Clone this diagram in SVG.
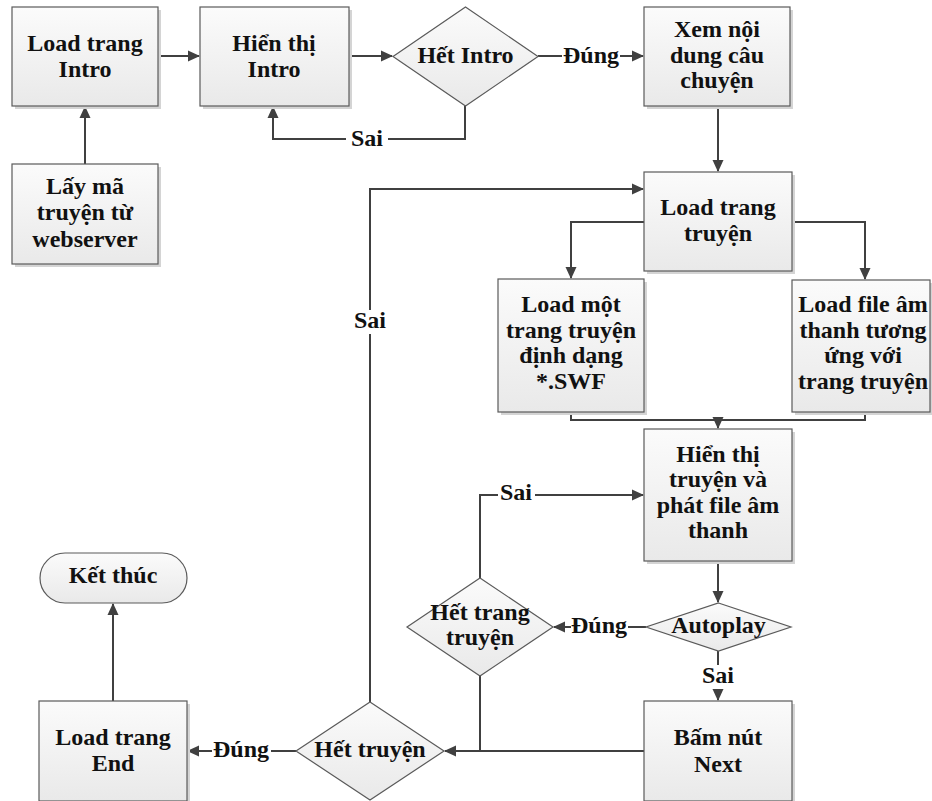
<svg xmlns="http://www.w3.org/2000/svg" width="932" height="801" viewBox="0 0 932 801">
<defs>
<linearGradient id="g" x1="0" y1="0" x2="0" y2="1">
<stop offset="0" stop-color="#fbfbfb"/>
<stop offset="1" stop-color="#e9e9e9"/>
</linearGradient>
<marker id="ah" markerUnits="userSpaceOnUse" markerWidth="12" markerHeight="12" viewBox="0 0 12 12" refX="11" refY="6" orient="auto">
<path d="M0,0.5 L12,6 L0,11.5 Z" fill="#404040"/>
</marker>
</defs>
<style>
.sh{fill:#d4d4d4}
.bx{fill:url(#g);stroke:#5a5a5a;stroke-width:1.2}
.t{font-weight:700;font-size:24px;fill:#111;text-anchor:middle}
.c{fill:none;stroke:#404040;stroke-width:2}
.a{marker-end:url(#ah)}
.lb{fill:#fff}
</style>
<rect width="932" height="801" fill="#fff"/>

<g font-family="Liberation Serif, Times New Roman, serif">
<g id="connectors">
<path class="c a" d="M85 164 V107"/>
<path class="c a" d="M158 56 H199"/>
<path class="c a" d="M349 56 H392"/>
<path class="c a" d="M465 106 V139 H273 V107"/>
<path class="c a" d="M538 56 H643"/>
<path class="c a" d="M718 106 V171"/>
<path class="c a" d="M644 222 H571 V278"/>
<path class="c a" d="M792 222 H865 V279"/>
<path class="c" d="M571 412 V420 H865 V412"/>
<path class="c a" d="M718 420 V428"/>
<path class="c a" d="M718 561 V602"/>
<path class="c a" d="M646 627 H554"/>
<path class="c a" d="M480 578 V495 H643"/>
<path class="c" d="M480 676 V751"/>
<path class="c a" d="M644 751 H445"/>
<path class="c a" d="M718 651 V700"/>
<path class="c a" d="M370 702 V189 H643"/>
<path class="c a" d="M296 751 H188"/>
<path class="c a" d="M113 701 V604"/>
<rect class="lb" x="346" y="128" width="42" height="22"/>
<text class="t" x="367" y="146">Sai</text>
<rect class="lb" x="562" y="45" width="58" height="24"/>
<text class="t" x="591" y="63">Đúng</text>
<rect class="lb" x="349" y="310" width="42" height="24"/>
<text class="t" x="370" y="328">Sai</text>
<rect class="lb" x="498" y="483" width="37" height="22"/>
<text class="t" x="516" y="500">Sai</text>
<rect class="lb" x="571" y="614" width="57" height="24"/>
<text class="t" x="599" y="633">Đúng</text>
<rect class="lb" x="700" y="665" width="36" height="24"/>
<text class="t" x="718" y="683">Sai</text>
<rect class="lb" x="212" y="738" width="59" height="24"/>
<text class="t" x="241" y="757">Đúng</text>
</g>

<g id="load-intro">
<rect class="sh" x="15" y="10" width="146" height="99"/>
<rect class="bx" x="12" y="7" width="146" height="99"/>
<text class="t" x="85" y="51">Load trang</text>
<text class="t" x="85" y="77">Intro</text>
</g>

<g id="lay-ma">
<rect class="sh" x="15" y="167" width="146" height="100"/>
<rect class="bx" x="12" y="164" width="146" height="100"/>
<text class="t" x="85" y="194">Lấy mã</text>
<text class="t" x="85" y="220">truyện từ</text>
<text class="t" x="85" y="247">webserver</text>
</g>

<g id="hien-thi-intro">
<rect class="sh" x="203" y="10" width="149" height="99"/>
<rect class="bx" x="200" y="7" width="149" height="99"/>
<text class="t" x="274" y="51">Hiển thị</text>
<text class="t" x="274" y="77">Intro</text>
</g>

<g id="het-intro">
<polygon class="bx" points="465.5,7 538,56.5 465.5,106 393,56.5"/>
<text class="t" x="465.5" y="63">Hết Intro</text>
</g>

<g id="xem-noi-dung">
<rect class="sh" x="647" y="10" width="146" height="99"/>
<rect class="bx" x="644" y="7" width="146" height="99"/>
<text class="t" x="717" y="37">Xem nội</text>
<text class="t" x="717" y="63">dung câu</text>
<text class="t" x="717" y="88">chuyện</text>
</g>

<g id="load-trang-truyen">
<rect class="sh" x="647" y="175" width="148" height="99"/>
<rect class="bx" x="644" y="172" width="148" height="99"/>
<text class="t" x="718" y="215">Load trang</text>
<text class="t" x="718" y="241">truyện</text>
</g>

<g id="load-mot-trang">
<rect class="sh" x="501" y="282" width="146" height="133"/>
<rect class="bx" x="498" y="279" width="146" height="133"/>
<text class="t" x="571" y="312">Load một</text>
<text class="t" x="571" y="338">trang truyện</text>
<text class="t" x="571" y="363">định dạng</text>
<text class="t" x="571" y="389">*.SWF</text>
</g>

<g id="load-file-am-thanh">
<rect class="sh" x="795" y="283" width="146" height="132"/>
<rect class="bx" x="792" y="280" width="138" height="132"/>
<text class="t" x="863" y="312">Load file âm</text>
<text class="t" x="863" y="338">thanh tương</text>
<text class="t" x="863" y="363">ứng với</text>
<text class="t" x="863" y="389">trang truyện</text>
</g>

<g id="hien-thi-truyen">
<rect class="sh" x="647" y="432" width="148" height="132"/>
<rect class="bx" x="644" y="429" width="148" height="132"/>
<text class="t" x="718" y="462">Hiển thị</text>
<text class="t" x="718" y="487">truyện và</text>
<text class="t" x="718" y="513">phát file âm</text>
<text class="t" x="718" y="538">thanh</text>
</g>

<g id="autoplay">
<polygon class="bx" points="718.5,603 791,627 718.5,651 646,627"/>
<text class="t" x="718.5" y="633">Autoplay</text>
</g>

<g id="het-trang-truyen">
<polygon class="bx" points="480,578 553,627 480,676 407,627"/>
<text class="t" x="480" y="620">Hết trang</text>
<text class="t" x="480" y="645">truyện</text>
</g>

<g id="bam-nut-next">
<rect class="sh" x="647" y="704" width="148" height="100"/>
<rect class="bx" x="644" y="701" width="148" height="100"/>
<text class="t" x="718" y="745">Bấm nút</text>
<text class="t" x="718" y="772">Next</text>
</g>

<g id="het-truyen">
<polygon class="bx" points="370,702 444,751 370,800 296,751"/>
<text class="t" x="370" y="757">Hết truyện</text>
</g>

<g id="load-trang-end">
<rect class="sh" x="42" y="704" width="148" height="100"/>
<rect class="bx" x="39" y="701" width="148" height="100"/>
<text class="t" x="113" y="745">Load trang</text>
<text class="t" x="113" y="771">End</text>
</g>

<g id="ket-thuc">
<rect class="bx" x="40" y="553" width="147" height="50" rx="25" ry="25"/>
<text class="t" x="113" y="583">Kết thúc</text>
</g>
</g>
</svg>
